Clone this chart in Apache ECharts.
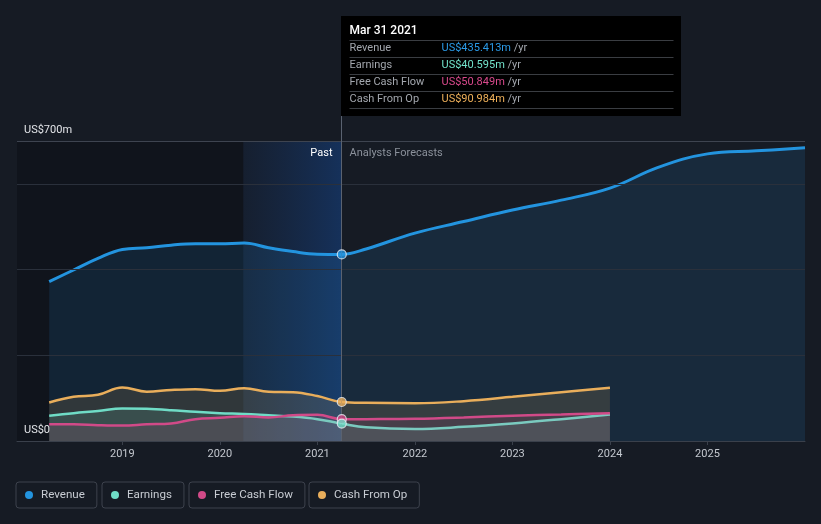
<!DOCTYPE html>
<html><head><meta charset="utf-8">
<script src="https://cdn.jsdelivr.net/npm/echarts@6/dist/echarts.min.js"></script>
<style>html,body{margin:0;padding:0;background:#161b24;}#c{width:821px;height:524px;}</style>
</head><body><div id="c"></div>
<script>
const pastX = [2018.25, 2018.5, 2018.75, 2019.0, 2019.25, 2019.5, 2019.75, 2020.0, 2020.25, 2020.5, 2020.75, 2021.0, 2021.25];
const revenuePast = [372, 399, 426, 447, 451, 457, 460, 460, 462, 451, 442, 436, 435.413];
const earningsPast = [59, 65, 70, 76, 75, 72, 68, 65, 63, 60, 57, 51, 40.595];
const fcfPast = [39, 39, 37, 36, 39, 41, 51, 54, 58, 55, 60, 61, 50.849];
const cfoPast = [90, 103, 108, 125, 115, 119, 121, 117, 123, 115, 114, 105, 90.984];

const revForecastX = [2021.5, 2022.0, 2022.5, 2023.0, 2023.5, 2024.0, 2024.5, 2025.0, 2025.5, 2026.0];
const revenueForecast = [448, 485, 512, 539, 562, 590, 639, 670, 677, 684];
const otherForecastX = [2021.5, 2022.0, 2022.5, 2023.0, 2023.5, 2024.0];
const earningsForecast = [32, 28, 33, 41, 51, 62];
const fcfForecast = [51, 52, 55, 59, 62, 65];
const cfoForecast = [89, 88, 93, 103, 114, 124];

const yearTicks = [2019, 2020, 2021, 2022, 2023, 2024, 2025];
const yLabelValues = [0, 700];
const xMin = 2017.92, xMax = 2026.0;
const nowX = 2021.25, highlightStart = 2020.24;

const tipTitle = 'Mar 31 2021';
const tipRows = [
  ['Revenue', 'US$435.413m', '#2b9be8'],
  ['Earnings', 'US$40.595m', '#72e3cb'],
  ['Free Cash Flow', 'US$50.849m', '#d9498c'],
  ['Cash From Op', 'US$90.984m', '#f0b15a']
];

const colors = {Revenue:'#2394df', Earnings:'#6fdcc6', 'Free Cash Flow':'#d14a88', 'Cash From Op':'#e9ae5b'};
const zip = (xs, ys) => xs.map((x, i) => [x, ys[i]]);

const FONT = 'Roboto, "Noto Sans", sans-serif';
const chart = echarts.init(document.getElementById('c'), null, {renderer:'canvas'});

function lineSeries(name, data, width, areaOpacity, z) {
  return {
    name, type:'line', data, smooth:0.4, symbol:'none', z,
    lineStyle:{color:colors[name], width},
    itemStyle:{color:colors[name]},
    areaStyle:{color:colors[name], opacity:areaOpacity},
    emphasis:{disabled:true}
  };
}

const revenueSeries = lineSeries('Revenue', zip(pastX, revenuePast).concat(zip(revForecastX, revenueForecast)), 3, 0.13, 3);
revenueSeries.markArea = {
  silent:true,
  data:[
    [{xAxis:xMin, itemStyle:{color:'rgba(5,8,14,0.35)'}}, {xAxis:highlightStart}],
    [{xAxis:highlightStart, itemStyle:{color:new echarts.graphic.LinearGradient(0,0,1,0,[
      {offset:0, color:'rgba(20,70,150,0.10)'},{offset:1, color:'rgba(20,85,180,0.38)'}]),
      borderWidth:0}}, {xAxis:nowX}]
  ]
};

const markerData = [
  [nowX, revenuePast[12], colors.Revenue],
  [nowX, cfoPast[12], colors['Cash From Op']],
  [nowX, fcfPast[12], colors['Free Cash Flow']],
  [nowX, earningsPast[12], colors.Earnings]
];

const legendNames = ['Revenue','Earnings','Free Cash Flow','Cash From Op'];
const legendLefts = [16, 102, 189, 309];

const option = {
  backgroundColor:'#161b24',
  animation:false,
  textStyle:{fontFamily:FONT},
  grid:{left:17, right:16, top:141, bottom:83, containLabel:false},
  xAxis:{
    type:'value', min:xMin, max:xMax,
    axisLine:{show:true, lineStyle:{color:'#3a404b', width:1}},
    axisTick:{show:true, customValues:yearTicks, length:4, lineStyle:{color:'#3a404b'}},
    axisLabel:{customValues:yearTicks, color:'#c4c8cf', fontSize:11, margin:8, fontFamily:FONT,
      formatter:v => String(Math.round(v))},
    splitLine:{show:false}
  },
  yAxis:{
    type:'value', min:0, max:700, interval:100, z:10,
    axisLine:{show:false}, axisTick:{show:false},
    axisLabel:{customValues:yLabelValues, inside:true, margin:7, verticalAlign:'bottom', padding:[0,0,5,0],
      color:'#e2e4e8', fontSize:11, fontFamily:FONT,
      formatter:v => v === 0 ? 'US$0' : 'US$' + v + 'm'},
    splitLine:{show:true, lineStyle:{width:1, color:['rgba(0,0,0,0)','rgba(0,0,0,0)','#2a303b','rgba(0,0,0,0)','#2a303b','rgba(0,0,0,0)','#2a303b','#3e4450']}}
  },
  legend: legendNames.map((n, i) => ({
    data:[n], left:legendLefts[i], top:482, orient:'horizontal',
    icon:'circle', itemWidth:14, itemHeight:8, itemGap:0,
    padding:[6,12,6,9], borderColor:'#3d424d', borderWidth:1, borderRadius:3,
    textStyle:{color:'#c8ccd3', fontSize:11.6, fontFamily:FONT, lineHeight:14},
    selectedMode:false
  })),
  series:[
    revenueSeries,
    lineSeries('Cash From Op', zip(pastX, cfoPast).concat(zip(otherForecastX, cfoForecast)), 2.5, 0.14, 4),
    lineSeries('Earnings', zip(pastX, earningsPast).concat(zip(otherForecastX, earningsForecast)), 2.5, 0.14, 5),
    lineSeries('Free Cash Flow', zip(pastX, fcfPast).concat(zip(otherForecastX, fcfForecast)), 2.5, 0.12, 6),
    {
      type:'scatter', z:20, silent:true, symbol:'circle', symbolSize:9,
      data:markerData.map(d => ({value:[d[0], d[1]], itemStyle:{color:d[2], borderColor:'#e8eef5', borderWidth:1.2}}))
    }
  ],
  graphic:[]
};
chart.setOption(option);

const nowPx = chart.convertToPixel({gridIndex:0}, [nowX, 700]);
const basePx = chart.convertToPixel({gridIndex:0}, [nowX, 0]);
const lx = Math.round(nowPx[0]) - 0.5;
const boxTop = 16, boxW = 340, boxH = 100;
const g = [
  {type:'line', z:15, silent:true, shape:{x1:lx, y1:boxTop, x2:lx, y2:basePx[1]}, style:{stroke:'#5a6270', lineWidth:1}},
  {type:'rect', z:30, silent:true, shape:{x:lx-0.5, y:boxTop, width:boxW, height:boxH}, style:{fill:'#000000'}},
  {type:'text', z:31, silent:true, x:lx+8, y:boxTop+15, style:{text:tipTitle, fill:'#ffffff', font:'500 12px ' + FONT, verticalAlign:'middle'}},
  {type:'text', z:15, silent:true, x:lx-9, y:nowPx[1]+12, style:{text:'Past', fill:'#ffffff', font:'11px ' + FONT, align:'right', verticalAlign:'middle'}},
  {type:'text', z:15, silent:true, x:lx+8, y:nowPx[1]+12, style:{text:'Analysts Forecasts', fill:'#8b919b', font:'11px ' + FONT, verticalAlign:'middle'}}
];
const sepYs = [40, 57, 74, 91, 108];
sepYs.forEach(y => g.push({type:'line', z:31, silent:true, shape:{x1:lx+8, y1:y+0.5, x2:lx+332, y2:y+0.5}, style:{stroke:'#3a3d42', lineWidth:1}}));
tipRows.forEach((r, i) => {
  const cy = (sepYs[i] + sepYs[i+1]) / 2;
  g.push({type:'text', z:31, silent:true, x:lx+8, y:cy, style:{text:r[0], fill:'#a3a7ae', font:'11px ' + FONT, verticalAlign:'middle'}});
  g.push({type:'text', z:31, silent:true, x:lx+100, y:cy, style:{
    text:'{v|' + r[1] + '} {u|/yr}', verticalAlign:'middle', font:'11px ' + FONT,
    rich:{v:{fill:r[2], fontSize:11, fontFamily:FONT}, u:{fill:'#a3a7ae', fontSize:11, fontFamily:FONT}}}});
});
chart.setOption({graphic:g});
</script></body></html>
